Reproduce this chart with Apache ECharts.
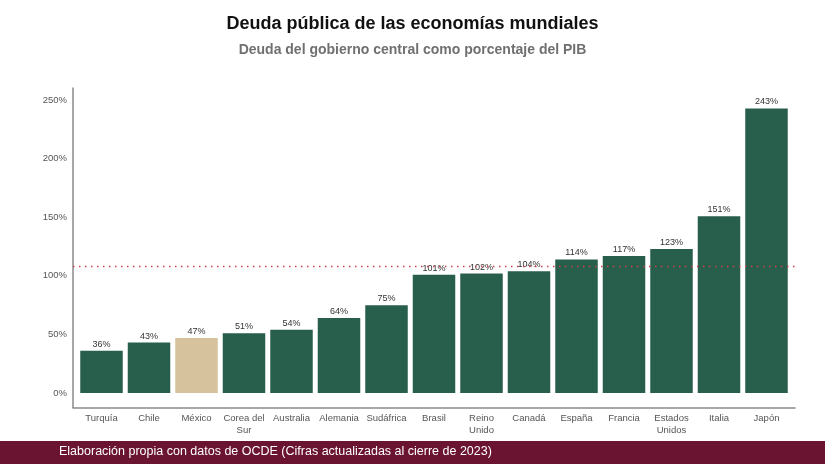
<!DOCTYPE html>
<html>
<head>
<meta charset="utf-8">
<script src="https://cdn.jsdelivr.net/npm/echarts@6/dist/echarts.min.js"></script>
<style>
html,body{margin:0;padding:0;background:#fff;}
#c{width:825px;height:464px;}
</style>
</head>
<body>
<div id="c"></div>
<script>
const categories = ['Turquía','Chile','México','Corea del\nSur','Australia','Alemania','Sudáfrica','Brasil','Reino\nUnido','Canadá','España','Francia','Estados\nUnidos','Italia','Japón'];
const values = [36,43,47,51,54,64,75,101,102,104,114,117,123,151,243];
const highlight = 'México';
const yTicks = [0,50,100,150,200,250];
const referenceLine = 108;

const chart = echarts.init(document.getElementById('c'));
const data = values.map((v,i)=>({
  value:[i+1, v],
  itemStyle:{color: categories[i]===highlight ? '#d6c29c' : '#275e4c'}
}));
chart.setOption({
  backgroundColor:'#ffffff',
  animation:false,
  title:[
    {text:'Deuda pública de las economías mundiales', left:'center', top:10,
     textStyle:{fontFamily:'Liberation Sans, Arial', fontWeight:'bold', fontSize:18, color:'#111'}},
    {text:'Deuda del gobierno central como porcentaje del PIB', left:'center', top:38,
     textStyle:{fontFamily:'Liberation Sans, Arial', fontWeight:'bold', fontSize:14, color:'#707070'}}
  ],
  graphic:[
    {type:'rect', left:0, top:441, shape:{width:825, height:23}, style:{fill:'#6a1431'}, z:0},
    {type:'text', left:59, top:445, style:{text:'Elaboración propia con datos de OCDE (Cifras actualizadas al cierre de 2023)',
      fill:'#ffffff', font:'12.5px "Liberation Sans", Arial'}, z:1}
  ],
  grid:{left:73, right:30, top:88, bottom:56.5, outerBoundsMode:'none', containLabel:false},
  xAxis:{
    type:'value', min:0.4, max:15.6,
    splitLine:{show:false},
    axisLine:{show:true, onZero:false, lineStyle:{color:'#8a8a8a', width:1.5}},
    axisTick:{show:false},
    axisLabel:{customValues:categories.map((c,i)=>i+1), formatter:v=>categories[Math.round(v)-1]||'',
      color:'#555', fontSize:9.5, lineHeight:12, margin:5, fontFamily:'Liberation Sans, Arial', showMinLabel:true, showMaxLabel:true}
  },
  yAxis:{
    type:'value', min:-12.4, max:260.4,
    splitLine:{show:false},
    axisLine:{show:true, onZero:false, lineStyle:{color:'#8a8a8a', width:1.5}},
    axisTick:{show:false},
    axisLabel:{customValues:yTicks, formatter:v=>v+'%', color:'#555', fontSize:9.5, margin:6, fontFamily:'Liberation Sans, Arial'}
  },
  series:[{
    type:'bar', data:data, barWidth:42.5,
    label:{show:true, position:'top', distance:2, formatter:p=>p.value[1]+'%', color:'#333', fontSize:9, fontFamily:'Liberation Sans, Arial'},
    markLine:{silent:true, symbol:'none', label:{show:false},
      lineStyle:{color:'#d0404f', type:[1.5,4.5], width:1.3},
      data:[{yAxis:referenceLine}]}
  }]
});
</script>
</body>
</html>
